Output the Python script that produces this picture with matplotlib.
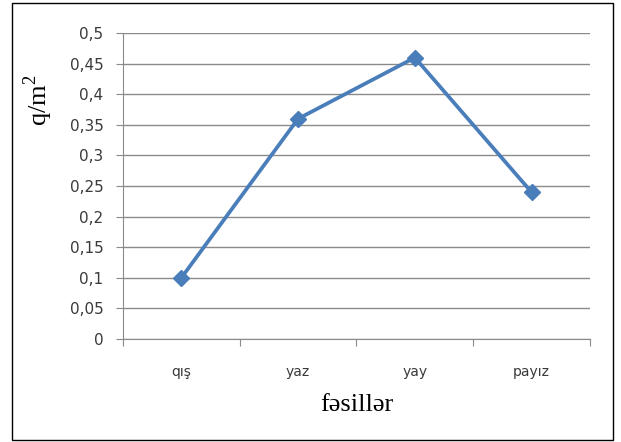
import numpy as np
import matplotlib.pyplot as plt
from matplotlib.patches import Rectangle

# data
seasons = ["qış", "yaz", "yay", "payız"]
values = [0.1, 0.36, 0.46, 0.24]
yticks = [0, 0.05, 0.1, 0.15, 0.2, 0.25, 0.3, 0.35, 0.4, 0.45, 0.5]

fig = plt.figure(figsize=(6.21, 4.42), dpi=100)
ax = fig.add_axes([0.198, 0.233, 0.752, 0.692])

x = np.arange(len(seasons))
ax.plot(x, values, color="#4A7EBB", lw=2.7, marker="D", markersize=8.5)

ax.set_xlim(-0.5, len(seasons) - 0.5)
ax.set_ylim(0, 0.5)
ax.set_yticks(yticks)
ax.set_yticklabels([f"{v:g}".replace(".", ",") for v in yticks], fontsize=11, color="#3a3a3a")
ax.yaxis.grid(True, color="#8a8a8a", lw=1)
ax.set_axisbelow(True)

# category labels between boundary ticks
ax.set_xticks(np.arange(-0.5, len(seasons)), minor=False)
ax.set_xticklabels([])
ax.set_xticks(x, minor=True)
ax.set_xticklabels(seasons, minor=True, fontsize=10, color="#3a3a3a")
ax.tick_params(axis="x", which="minor", length=0, pad=19)
ax.tick_params(axis="x", which="major", length=5, color="#8a8a8a")
ax.tick_params(axis="y", length=5, color="#8a8a8a", pad=9)

for s in ["top", "right"]:
    ax.spines[s].set_visible(False)
for s in ["left", "bottom"]:
    ax.spines[s].set_color("#8a8a8a")

plt.rcParams["mathtext.fontset"] = "custom"
plt.rcParams["mathtext.rm"] = "Liberation Serif"
ax.set_ylabel(r"q/m$^\mathregular{2}$", fontsize=19, family="Liberation Serif")
ax.yaxis.label.set_verticalalignment("center")
ax.yaxis.set_label_coords(-0.182, 0.781)
ax.set_xlabel("fəsillər", fontsize=19, family="Liberation Serif", labelpad=8)
ax.xaxis.label.set_verticalalignment("center")
ax.xaxis.set_label_coords(0.5, -0.216)

fig.patches.append(Rectangle((12 / 621, 2 / 442), 601 / 621, 437 / 442, transform=fig.transFigure,
                             fill=False, edgecolor="black", lw=1))

fig.savefig("out.png", dpi=100)
